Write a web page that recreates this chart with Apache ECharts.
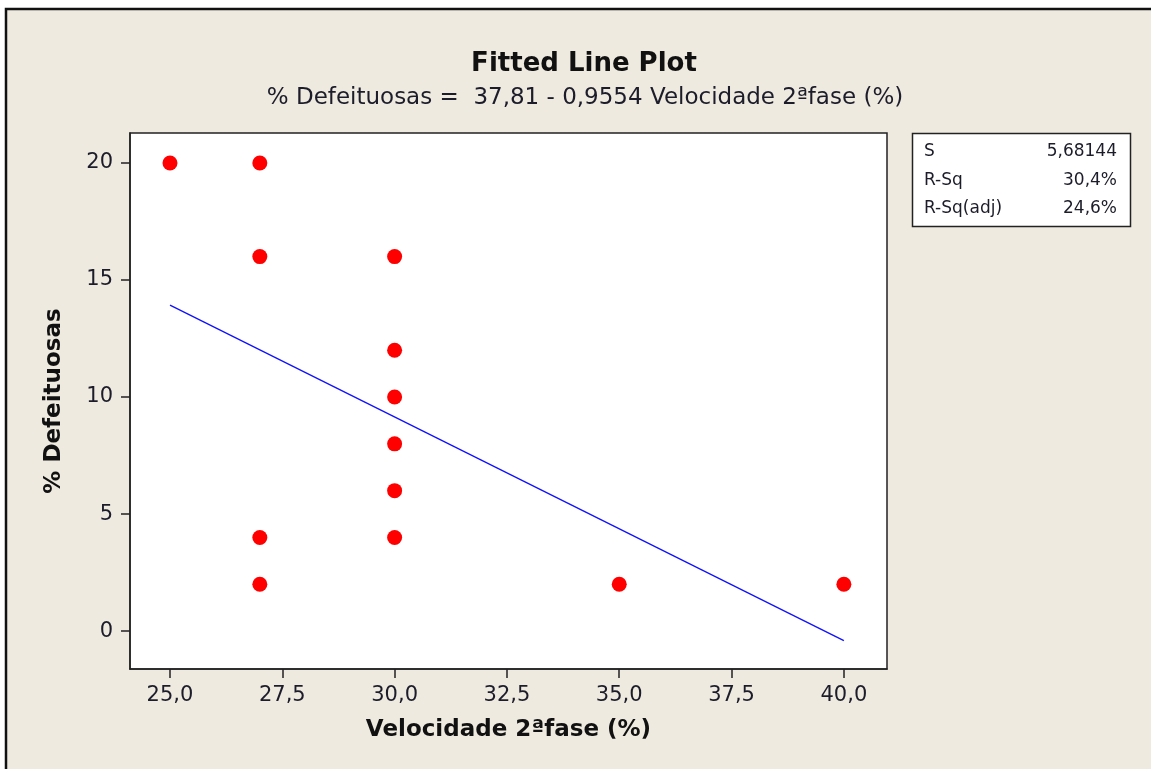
<!DOCTYPE html>
<html>
<head>
<meta charset="utf-8">
<title>Fitted Line Plot</title>
<script src="https://cdn.jsdelivr.net/npm/echarts@6/dist/echarts.min.js"></script>
<style>
  html, body { margin: 0; padding: 0; background: #ffffff; }
  #main { width: 1151px; height: 769px; }
</style>
</head>
<body>
<div id="main"></div>
<script>
// dados
var velocidade = [25, 27, 27, 27, 27, 30, 30, 30, 30, 30, 30, 35, 40];
var defeituosas = [20, 20, 16, 4, 2, 16, 12, 10, 8, 6, 4, 2, 2];

// reta ajustada: % Defeituosas = 37,81 - 0,9554 Velocidade
var intercepto = 37.81;
var inclinacao = -0.9554;
var fitX = [25, 40];

var xTicks = [25, 27.5, 30, 32.5, 35, 37.5, 40];
var yTicks = [0, 5, 10, 15, 20];

var statsLabels = ['S', 'R-Sq', 'R-Sq(adj)'];
var statsValues = ['5,68144', '30,4%', '24,6%'];

var pontos = velocidade.map(function (v, i) { return [v, defeituosas[i]]; });
var reta = fitX.map(function (v) { return [v, intercepto + inclinacao * v]; });

var fonte = 'DejaVu Sans';
var corTexto = '#1c1c2a';

var myChart = echarts.init(document.getElementById('main'));

var statsGraphic = [{
    type: 'rect',
    shape: { x: 912.5, y: 133.5, width: 218, height: 93 },
    style: { fill: '#ffffff', stroke: '#222', lineWidth: 1.5 },
    z: 10
}];
statsLabels.forEach(function (lbl, i) {
    statsGraphic.push({
        type: 'text', x: 924, y: 152 + i * 28.5, z: 11,
        style: { text: lbl, font: '17px ' + fonte, fill: corTexto, verticalAlign: 'middle' }
    });
    statsGraphic.push({
        type: 'text', x: 1117, y: 152 + i * 28.5, z: 11,
        style: { text: statsValues[i], font: '17px ' + fonte, fill: corTexto, align: 'right', verticalAlign: 'middle' }
    });
});

var option = {
    backgroundColor: '#ffffff',
    animation: false,
    title: [{
        text: 'Fitted Line Plot',
        left: 579, top: 46, textAlign: 'center',
        textStyle: { fontFamily: fonte, fontSize: 26, fontWeight: 'bold', color: '#111' }
    }, {
        text: '% Defeituosas =  37,81 - 0,9554 Velocidade 2ªfase (%)',
        left: 580, top: 82, textAlign: 'center',
        textStyle: { fontFamily: fonte, fontSize: 23, fontWeight: 'normal', color: corTexto }
    }],
    graphic: [{
        type: 'rect',
        shape: { x: 6, y: 9, width: 1200, height: 800 },
        style: { fill: '#eeeae0', stroke: '#111', lineWidth: 2.5 },
        z: -10, silent: true
    }].concat(statsGraphic),
    grid: {
        left: 130, right: 264, top: 133, bottom: 100,
        show: true, backgroundColor: '#ffffff', borderColor: '#222', borderWidth: 1.5
    },
    xAxis: {
        type: 'value',
        min: 24.11, max: 40.96,
        name: 'Velocidade 2ªfase (%)',
        nameLocation: 'middle', nameGap: 50,
        nameTextStyle: { fontFamily: fonte, fontSize: 23, fontWeight: 'bold', color: '#111' },
        splitLine: { show: false },
        axisLine: { show: true, onZero: false, lineStyle: { color: '#222', width: 1.5 } },
        axisTick: { show: true, customValues: xTicks, length: 9, lineStyle: { color: '#222', width: 1.5 } },
        axisLabel: {
            customValues: xTicks, margin: 16,
            fontFamily: fonte, fontSize: 21, color: corTexto,
            formatter: function (v) { return v.toFixed(1).replace('.', ','); }
        }
    },
    yAxis: {
        type: 'value',
        min: -1.62, max: 21.28,
        name: '% Defeituosas',
        nameLocation: 'middle', nameGap: 64,
        nameTextStyle: { fontFamily: fonte, fontSize: 23, fontWeight: 'bold', color: '#111' },
        splitLine: { show: false },
        axisLine: { show: true, onZero: false, lineStyle: { color: '#222', width: 1.5 } },
        axisTick: { show: true, customValues: yTicks, length: 9, lineStyle: { color: '#222', width: 1.5 } },
        axisLabel: {
            customValues: yTicks, margin: 17,
            fontFamily: fonte, fontSize: 21, color: corTexto
        }
    },
    series: [{
        name: 'Ajuste',
        type: 'line',
        data: reta,
        symbol: 'none',
        lineStyle: { color: '#1010ff', width: 1.3 },
        z: 2
    }, {
        name: 'Dados',
        type: 'scatter',
        data: pontos,
        symbol: 'circle',
        symbolSize: 15,
        itemStyle: { color: '#ff0000', opacity: 1 },
        z: 3
    }]
};

myChart.setOption(option);
</script>
</body>
</html>
